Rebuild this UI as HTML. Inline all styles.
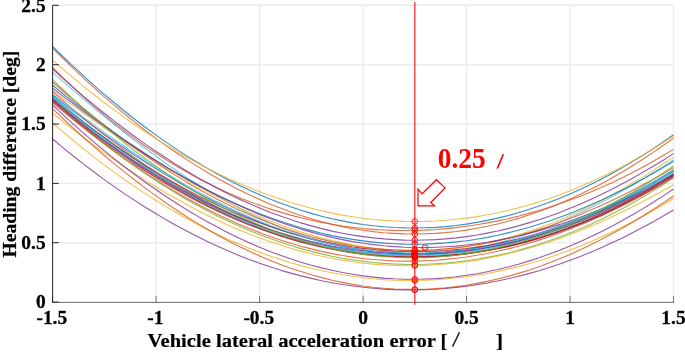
<!DOCTYPE html>
<html><head><meta charset="utf-8"><title>Heading difference vs lateral acceleration error</title>
<style>html,body{margin:0;padding:0;background:#fff}svg{display:block}</style></head>
<body>
<svg width="685" height="352" viewBox="0 0 685 352">
<rect width="685" height="352" fill="#fff"/>
<g stroke="#ebebeb" stroke-width="1.4"><line x1="52.6" y1="5.3" x2="52.6" y2="302.1"/><line x1="156.1" y1="5.3" x2="156.1" y2="302.1"/><line x1="259.6" y1="5.3" x2="259.6" y2="302.1"/><line x1="363.1" y1="5.3" x2="363.1" y2="302.1"/><line x1="466.5" y1="5.3" x2="466.5" y2="302.1"/><line x1="570.0" y1="5.3" x2="570.0" y2="302.1"/><line x1="673.5" y1="5.3" x2="673.5" y2="302.1"/><line x1="52.6" y1="302.1" x2="673.5" y2="302.1"/><line x1="52.6" y1="242.7" x2="673.5" y2="242.7"/><line x1="52.6" y1="183.4" x2="673.5" y2="183.4"/><line x1="52.6" y1="124.0" x2="673.5" y2="124.0"/><line x1="52.6" y1="64.7" x2="673.5" y2="64.7"/><line x1="52.6" y1="5.3" x2="673.5" y2="5.3"/></g>
<g fill="none" stroke-width="1.1" stroke-opacity="0.8" stroke-linejoin="round"><polyline points="52.6,46.3 62.9,56.5 73.3,66.3 83.6,75.9 94.0,85.3 104.3,94.3 114.7,103.0 125.0,111.5 135.4,119.7 145.7,127.5 156.1,135.1 166.4,142.4 176.8,149.4 187.1,156.1 197.5,162.5 207.8,168.6 218.2,174.5 228.5,180.0 238.9,185.2 249.2,190.1 259.6,194.7 269.9,199.1 280.3,203.1 290.6,206.8 301.0,210.2 311.3,213.4 321.7,216.2 332.0,218.7 342.4,220.9 352.7,222.9 363.1,224.5 373.4,225.8 383.7,226.8 394.1,227.5 404.4,227.9 414.8,228.0 425.1,227.8 435.5,227.4 445.8,226.6 456.2,225.5 466.5,224.1 476.9,222.4 487.2,220.4 497.6,218.1 507.9,215.6 518.3,212.7 528.6,209.5 539.0,206.1 549.3,202.3 559.7,198.3 570.0,193.9 580.4,189.3 590.7,184.4 601.1,179.2 611.4,173.7 621.8,167.9 632.1,161.8 642.5,155.5 652.8,148.9 663.2,141.9 673.5,134.8" stroke="#0072BD"/>
<polyline points="52.6,48.0 62.9,58.3 73.3,68.3 83.6,78.1 94.0,87.6 104.3,96.8 114.7,105.7 125.0,114.3 135.4,122.6 145.7,130.7 156.1,138.4 166.4,145.9 176.8,153.0 187.1,159.9 197.5,166.4 207.8,172.7 218.2,178.7 228.5,184.3 238.9,189.7 249.2,194.8 259.6,199.5 269.9,204.0 280.3,208.1 290.6,212.0 301.0,215.5 311.3,218.7 321.7,221.7 332.0,224.3 342.4,226.6 352.7,228.6 363.1,230.2 373.4,231.6 383.7,232.7 394.1,233.4 404.4,233.9 414.8,234.0 425.1,233.8 435.5,233.4 445.8,232.6 456.2,231.5 466.5,230.1 476.9,228.3 487.2,226.3 497.6,224.0 507.9,221.3 518.3,218.4 528.6,215.1 539.0,211.6 549.3,207.7 559.7,203.6 570.0,199.1 580.4,194.3 590.7,189.3 601.1,183.9 611.4,178.2 621.8,172.3 632.1,166.0 642.5,159.5 652.8,152.6 663.2,145.5 673.5,138.1" stroke="#D95319"/>
<polyline points="52.6,60.1 62.9,69.1 73.3,77.9 83.6,86.4 94.0,94.7 104.3,102.7 114.7,110.4 125.0,117.9 135.4,125.2 145.7,132.1 156.1,138.9 166.4,145.3 176.8,151.5 187.1,157.4 197.5,163.1 207.8,168.5 218.2,173.7 228.5,178.6 238.9,183.2 249.2,187.6 259.6,191.7 269.9,195.6 280.3,199.1 290.6,202.5 301.0,205.5 311.3,208.3 321.7,210.8 332.0,213.1 342.4,215.1 352.7,216.8 363.1,218.3 373.4,219.5 383.7,220.4 394.1,221.0 404.4,221.4 414.8,221.5 425.1,221.4 435.5,221.0 445.8,220.3 456.2,219.3 466.5,218.1 476.9,216.6 487.2,214.8 497.6,212.8 507.9,210.5 518.3,207.9 528.6,205.0 539.0,201.9 549.3,198.5 559.7,194.8 570.0,190.8 580.4,186.6 590.7,182.1 601.1,177.3 611.4,172.2 621.8,166.9 632.1,161.3 642.5,155.4 652.8,149.2 663.2,142.7 673.5,136.0" stroke="#EDB120"/>
<polyline points="52.6,67.3 62.9,77.7 73.3,87.6 83.6,97.1 94.0,106.3 104.3,115.1 114.7,123.5 125.0,131.5 135.4,139.1 145.7,146.5 156.1,153.4 166.4,160.0 176.8,166.3 187.1,172.3 197.5,177.9 207.8,183.3 218.2,188.3 228.5,193.0 238.9,197.4 249.2,201.5 259.6,205.3 269.9,208.9 280.3,212.1 290.6,215.1 301.0,217.8 311.3,220.2 321.7,222.4 332.0,224.3 342.4,226.0 352.7,227.3 363.1,228.5 373.4,229.4 383.7,230.0 394.1,230.4 404.4,230.5 414.8,230.4 425.1,230.1 435.5,229.5 445.8,228.6 456.2,227.6 466.5,226.3 476.9,224.7 487.2,222.9 497.6,220.9 507.9,218.7 518.3,216.2 528.6,213.4 539.0,210.5 549.3,207.2 559.7,203.8 570.0,200.1 580.4,196.2 590.7,192.0 601.1,187.5 611.4,182.9 621.8,177.9 632.1,172.7 642.5,167.3 652.8,161.6 663.2,155.6 673.5,149.4" stroke="#D95319"/>
<polyline points="52.6,69.0 62.9,78.3 73.3,87.4 83.6,96.3 94.0,104.9 104.3,113.3 114.7,121.4 125.0,129.3 135.4,137.0 145.7,144.4 156.1,151.5 166.4,158.3 176.8,164.9 187.1,171.3 197.5,177.4 207.8,183.1 218.2,188.7 228.5,193.9 238.9,198.9 249.2,203.6 259.6,208.0 269.9,212.2 280.3,216.0 290.6,219.6 301.0,222.9 311.3,225.9 321.7,228.6 332.0,231.1 342.4,233.2 352.7,235.1 363.1,236.6 373.4,237.9 383.7,238.9 394.1,239.6 404.4,240.1 414.8,240.2 425.1,240.0 435.5,239.6 445.8,238.9 456.2,237.9 466.5,236.6 476.9,235.0 487.2,233.1 497.6,231.0 507.9,228.6 518.3,225.9 528.6,222.9 539.0,219.7 549.3,216.2 559.7,212.4 570.0,208.3 580.4,204.0 590.7,199.4 601.1,194.6 611.4,189.5 621.8,184.1 632.1,178.5 642.5,172.6 652.8,166.5 663.2,160.2 673.5,153.6" stroke="#7E2F8E"/>
<polyline points="52.6,72.3 62.9,81.4 73.3,90.4 83.6,99.2 94.0,107.9 104.3,116.5 114.7,124.8 125.0,133.0 135.4,141.0 145.7,148.8 156.1,156.3 166.4,163.7 176.8,170.8 187.1,177.7 197.5,184.3 207.8,190.6 218.2,196.7 228.5,202.5 238.9,208.0 249.2,213.3 259.6,218.2 269.9,222.8 280.3,227.2 290.6,231.2 301.0,234.9 311.3,238.3 321.7,241.3 332.0,244.1 342.4,246.5 352.7,248.6 363.1,250.3 373.4,251.7 383.7,252.8 394.1,253.6 404.4,254.0 414.8,254.1 425.1,253.9 435.5,253.3 445.8,252.4 456.2,251.2 466.5,249.6 476.9,247.8 487.2,245.6 497.6,243.1 507.9,240.3 518.3,237.2 528.6,233.8 539.0,230.2 549.3,226.2 559.7,222.0 570.0,217.5 580.4,212.7 590.7,207.7 601.1,202.5 611.4,197.0 621.8,191.2 632.1,185.3 642.5,179.2 652.8,172.9 663.2,166.4 673.5,159.7" stroke="#4DBEEE"/>
<polyline points="52.6,91.0 62.9,98.5 73.3,105.9 83.6,113.2 94.0,120.5 104.3,127.7 114.7,134.7 125.0,141.7 135.4,148.5 145.7,155.2 156.1,161.8 166.4,168.2 176.8,174.4 187.1,180.4 197.5,186.2 207.8,191.9 218.2,197.3 228.5,202.5 238.9,207.4 249.2,212.2 259.6,216.6 269.9,220.9 280.3,224.8 290.6,228.5 301.0,232.0 311.3,235.1 321.7,238.0 332.0,240.6 342.4,242.9 352.7,244.9 363.1,246.6 373.4,248.0 383.7,249.0 394.1,249.8 404.4,250.3 414.8,250.4 425.1,250.3 435.5,249.8 445.8,249.0 456.2,247.9 466.5,246.5 476.9,244.8 487.2,242.8 497.6,240.4 507.9,237.8 518.3,234.8 528.6,231.6 539.0,228.0 549.3,224.2 559.7,220.0 570.0,215.6 580.4,210.9 590.7,205.9 601.1,200.7 611.4,195.1 621.8,189.4 632.1,183.3 642.5,177.1 652.8,170.6 663.2,163.8 673.5,156.9" stroke="#EDB120"/>
<polyline points="52.6,82.0 62.9,91.0 73.3,99.8 83.6,108.5 94.0,116.9 104.3,125.1 114.7,133.1 125.0,140.9 135.4,148.4 145.7,155.7 156.1,162.7 166.4,169.5 176.8,176.1 187.1,182.4 197.5,188.4 207.8,194.2 218.2,199.7 228.5,204.9 238.9,209.9 249.2,214.6 259.6,219.0 269.9,223.1 280.3,226.9 290.6,230.5 301.0,233.7 311.3,236.7 321.7,239.4 332.0,241.8 342.4,243.9 352.7,245.7 363.1,247.2 373.4,248.4 383.7,249.4 394.1,250.0 404.4,250.4 414.8,250.4 425.1,250.2 435.5,249.7 445.8,248.9 456.2,247.9 466.5,246.5 476.9,244.9 487.2,243.0 497.6,240.9 507.9,238.4 518.3,235.8 528.6,232.8 539.0,229.6 549.3,226.2 559.7,222.5 570.0,218.6 580.4,214.5 590.7,210.1 601.1,205.5 611.4,200.7 621.8,195.7 632.1,190.5 642.5,185.1 652.8,179.5 663.2,173.7 673.5,167.8" stroke="#D95319"/>
<polyline points="52.6,85.3 62.9,93.7 73.3,101.9 83.6,109.9 94.0,117.8 104.3,125.4 114.7,132.9 125.0,140.1 135.4,147.2 145.7,154.0 156.1,160.6 166.4,167.0 176.8,173.1 187.1,179.0 197.5,184.7 207.8,190.2 218.2,195.4 228.5,200.3 238.9,205.0 249.2,209.5 259.6,213.7 269.9,217.6 280.3,221.2 290.6,224.6 301.0,227.8 311.3,230.6 321.7,233.2 332.0,235.6 342.4,237.6 352.7,239.4 363.1,240.9 373.4,242.1 383.7,243.1 394.1,243.7 404.4,244.1 414.8,244.2 425.1,244.1 435.5,243.6 445.8,242.9 456.2,241.9 466.5,240.7 476.9,239.2 487.2,237.4 497.6,235.3 507.9,232.9 518.3,230.3 528.6,227.5 539.0,224.3 549.3,220.9 559.7,217.3 570.0,213.4 580.4,209.2 590.7,204.8 601.1,200.2 611.4,195.3 621.8,190.2 632.1,184.9 642.5,179.3 652.8,173.5 663.2,167.5 673.5,161.3" stroke="#0072BD"/>
<polyline points="52.6,88.2 62.9,96.1 73.3,103.8 83.6,111.5 94.0,119.0 104.3,126.3 114.7,133.6 125.0,140.6 135.4,147.5 145.7,154.2 156.1,160.8 166.4,167.1 176.8,173.2 187.1,179.2 197.5,184.9 207.8,190.4 218.2,195.7 228.5,200.7 238.9,205.5 249.2,210.1 259.6,214.4 269.9,218.4 280.3,222.3 290.6,225.8 301.0,229.1 311.3,232.1 321.7,234.9 332.0,237.4 342.4,239.6 352.7,241.6 363.1,243.2 373.4,244.6 383.7,245.8 394.1,246.6 404.4,247.2 414.8,247.5 425.1,247.6 435.5,247.3 445.8,246.8 456.2,246.1 466.5,245.0 476.9,243.7 487.2,242.2 497.6,240.4 507.9,238.3 518.3,236.0 528.6,233.4 539.0,230.6 549.3,227.6 559.7,224.4 570.0,220.9 580.4,217.2 590.7,213.3 601.1,209.2 611.4,205.0 621.8,200.5 632.1,195.8 642.5,191.0 652.8,186.0 663.2,180.9 673.5,175.6" stroke="#7E2F8E"/>
<polyline points="52.6,102.5 62.9,111.3 73.3,119.8 83.6,128.1 94.0,136.2 104.3,144.1 114.7,151.8 125.0,159.2 135.4,166.3 145.7,173.2 156.1,179.9 166.4,186.3 176.8,192.5 187.1,198.4 197.5,204.1 207.8,209.5 218.2,214.7 228.5,219.5 238.9,224.2 249.2,228.5 259.6,232.6 269.9,236.4 280.3,239.9 290.6,243.2 301.0,246.2 311.3,248.9 321.7,251.4 332.0,253.6 342.4,255.5 352.7,257.1 363.1,258.5 373.4,259.5 383.7,260.3 394.1,260.9 404.4,261.1 414.8,261.1 425.1,260.8 435.5,260.3 445.8,259.4 456.2,258.3 466.5,257.0 476.9,255.3 487.2,253.5 497.6,251.3 507.9,248.9 518.3,246.2 528.6,243.3 539.0,240.1 549.3,236.7 559.7,233.0 570.0,229.1 580.4,225.0 590.7,220.6 601.1,216.0 611.4,211.1 621.8,206.1 632.1,200.8 642.5,195.3 652.8,189.5 663.2,183.6 673.5,177.5" stroke="#D95319"/>
<polyline points="52.6,95.0 62.9,103.1 73.3,111.1 83.6,118.9 94.0,126.6 104.3,134.1 114.7,141.4 125.0,148.5 135.4,155.5 145.7,162.2 156.1,168.8 166.4,175.1 176.8,181.3 187.1,187.2 197.5,192.9 207.8,198.3 218.2,203.5 228.5,208.5 238.9,213.2 249.2,217.7 259.6,222.0 269.9,225.9 280.3,229.7 290.6,233.1 301.0,236.3 311.3,239.2 321.7,241.9 332.0,244.2 342.4,246.3 352.7,248.2 363.1,249.7 373.4,251.0 383.7,251.9 394.1,252.6 404.4,253.1 414.8,253.2 425.1,253.1 435.5,252.6 445.8,251.9 456.2,250.9 466.5,249.7 476.9,248.1 487.2,246.3 497.6,244.2 507.9,241.9 518.3,239.3 528.6,236.4 539.0,233.2 549.3,229.8 559.7,226.1 570.0,222.2 580.4,218.0 590.7,213.6 601.1,208.9 611.4,204.0 621.8,198.9 632.1,193.6 642.5,188.0 652.8,182.2 663.2,176.2 673.5,170.0" stroke="#0072BD"/>
<polyline points="52.6,97.8 62.9,106.2 73.3,114.5 83.6,122.5 94.0,130.3 104.3,137.8 114.7,145.2 125.0,152.3 135.4,159.1 145.7,165.8 156.1,172.2 166.4,178.3 176.8,184.2 187.1,189.9 197.5,195.4 207.8,200.5 218.2,205.5 228.5,210.2 238.9,214.6 249.2,218.8 259.6,222.8 269.9,226.5 280.3,229.9 290.6,233.1 301.0,236.1 311.3,238.7 321.7,241.2 332.0,243.4 342.4,245.3 352.7,247.0 363.1,248.4 373.4,249.5 383.7,250.4 394.1,251.1 404.4,251.5 414.8,251.6 425.1,251.5 435.5,251.1 445.8,250.5 456.2,249.6 466.5,248.5 476.9,247.1 487.2,245.5 497.6,243.6 507.9,241.4 518.3,239.1 528.6,236.4 539.0,233.5 549.3,230.4 559.7,227.0 570.0,223.3 580.4,219.5 590.7,215.3 601.1,211.0 611.4,206.4 621.8,201.5 632.1,196.4 642.5,191.1 652.8,185.6 663.2,179.8 673.5,173.8" stroke="#A2142F"/>
<polyline points="52.6,100.0 62.9,109.3 73.3,118.3 83.6,127.1 94.0,135.6 104.3,143.8 114.7,151.7 125.0,159.4 135.4,166.8 145.7,173.9 156.1,180.8 166.4,187.4 176.8,193.7 187.1,199.8 197.5,205.6 207.8,211.1 218.2,216.4 228.5,221.3 238.9,226.0 249.2,230.5 259.6,234.6 269.9,238.5 280.3,242.1 290.6,245.5 301.0,248.6 311.3,251.4 321.7,253.9 332.0,256.2 342.4,258.2 352.7,259.9 363.1,261.3 373.4,262.5 383.7,263.4 394.1,264.0 404.4,264.4 414.8,264.5 425.1,264.3 435.5,263.8 445.8,263.1 456.2,262.1 466.5,260.8 476.9,259.3 487.2,257.4 497.6,255.4 507.9,253.0 518.3,250.3 528.6,247.4 539.0,244.2 549.3,240.8 559.7,237.1 570.0,233.0 580.4,228.8 590.7,224.2 601.1,219.4 611.4,214.3 621.8,208.9 632.1,203.3 642.5,197.3 652.8,191.1 663.2,184.7 673.5,177.9" stroke="#77AC30"/>
<polyline points="52.6,113.2 62.9,121.5 73.3,129.6 83.6,137.5 94.0,145.2 104.3,152.7 114.7,160.0 125.0,167.1 135.4,173.9 145.7,180.6 156.1,187.0 166.4,193.2 176.8,199.1 187.1,204.8 197.5,210.3 207.8,215.5 218.2,220.5 228.5,225.2 238.9,229.7 249.2,233.9 259.6,237.9 269.9,241.6 280.3,245.0 290.6,248.2 301.0,251.1 311.3,253.8 321.7,256.2 332.0,258.3 342.4,260.1 352.7,261.7 363.1,263.1 373.4,264.1 383.7,264.9 394.1,265.4 404.4,265.7 414.8,265.7 425.1,265.4 435.5,264.8 445.8,264.0 456.2,263.0 466.5,261.6 476.9,260.1 487.2,258.2 497.6,256.1 507.9,253.8 518.3,251.2 528.6,248.3 539.0,245.3 549.3,241.9 559.7,238.4 570.0,234.6 580.4,230.6 590.7,226.3 601.1,221.8 611.4,217.1 621.8,212.2 632.1,207.1 642.5,201.8 652.8,196.3 663.2,190.6 673.5,184.7" stroke="#EDB120"/>
<polyline points="52.6,123.0 62.9,131.9 73.3,140.5 83.6,148.9 94.0,157.1 104.3,164.9 114.7,172.6 125.0,180.0 135.4,187.1 145.7,193.9 156.1,200.5 166.4,206.9 176.8,213.0 187.1,218.8 197.5,224.4 207.8,229.7 218.2,234.7 228.5,239.5 238.9,244.0 249.2,248.3 259.6,252.3 269.9,256.0 280.3,259.5 290.6,262.7 301.0,265.6 311.3,268.3 321.7,270.7 332.0,272.8 342.4,274.7 352.7,276.3 363.1,277.7 373.4,278.8 383.7,279.6 394.1,280.2 404.4,280.5 414.8,280.5 425.1,280.3 435.5,279.8 445.8,279.0 456.2,278.0 466.5,276.8 476.9,275.2 487.2,273.5 497.6,271.4 507.9,269.1 518.3,266.6 528.6,263.8 539.0,260.7 549.3,257.4 559.7,253.8 570.0,250.0 580.4,246.0 590.7,241.7 601.1,237.1 611.4,232.3 621.8,227.3 632.1,222.0 642.5,216.5 652.8,210.7 663.2,204.7 673.5,198.5" stroke="#EDB120"/>
<polyline points="52.6,139.0 62.9,147.6 73.3,156.0 83.6,164.1 94.0,172.0 104.3,179.6 114.7,186.9 125.0,194.1 135.4,200.9 145.7,207.5 156.1,213.8 166.4,219.9 176.8,225.7 187.1,231.3 197.5,236.6 207.8,241.7 218.2,246.5 228.5,251.1 238.9,255.4 249.2,259.4 259.6,263.2 269.9,266.8 280.3,270.1 290.6,273.1 301.0,275.9 311.3,278.4 321.7,280.7 332.0,282.7 342.4,284.5 352.7,286.0 363.1,287.3 373.4,288.3 383.7,289.1 394.1,289.6 404.4,289.9 414.8,289.9 425.1,289.6 435.5,289.2 445.8,288.4 456.2,287.4 466.5,286.2 476.9,284.7 487.2,283.0 497.6,281.0 507.9,278.8 518.3,276.3 528.6,273.6 539.0,270.7 549.3,267.4 559.7,264.0 570.0,260.3 580.4,256.4 590.7,252.2 601.1,247.7 611.4,243.1 621.8,238.2 632.1,233.0 642.5,227.6 652.8,222.0 663.2,216.1 673.5,210.0" stroke="#7E2F8E"/>
<polyline points="52.6,105.0 62.9,114.7 73.3,124.1 83.6,133.2 94.0,142.1 104.3,150.7 114.7,159.1 125.0,167.2 135.4,175.0 145.7,182.5 156.1,189.8 166.4,196.8 176.8,203.5 187.1,210.0 197.5,216.1 207.8,222.0 218.2,227.6 228.5,232.9 238.9,238.0 249.2,242.7 259.6,247.2 269.9,251.4 280.3,255.2 290.6,258.8 301.0,262.2 311.3,265.2 321.7,267.9 332.0,270.3 342.4,272.5 352.7,274.3 363.1,275.9 373.4,277.1 383.7,278.1 394.1,278.8 404.4,279.2 414.8,279.2 425.1,279.0 435.5,278.6 445.8,277.8 456.2,276.7 466.5,275.3 476.9,273.7 487.2,271.7 497.6,269.5 507.9,267.0 518.3,264.2 528.6,261.1 539.0,257.8 549.3,254.1 559.7,250.2 570.0,246.0 580.4,241.5 590.7,236.7 601.1,231.7 611.4,226.4 621.8,220.8 632.1,215.0 642.5,208.9 652.8,202.5 663.2,195.9 673.5,189.0" stroke="#7E2F8E"/>
<polyline points="52.6,108.6 62.9,118.5 73.3,128.1 83.6,137.5 94.0,146.6 104.3,155.5 114.7,164.1 125.0,172.4 135.4,180.5 145.7,188.4 156.1,195.9 166.4,203.2 176.8,210.2 187.1,217.0 197.5,223.4 207.8,229.5 218.2,235.4 228.5,241.0 238.9,246.3 249.2,251.2 259.6,255.9 269.9,260.3 280.3,264.4 290.6,268.2 301.0,271.6 311.3,274.8 321.7,277.6 332.0,280.2 342.4,282.4 352.7,284.4 363.1,286.0 373.4,287.3 383.7,288.3 394.1,289.0 404.4,289.4 414.8,289.4 425.1,289.2 435.5,288.6 445.8,287.8 456.2,286.6 466.5,285.2 476.9,283.4 487.2,281.4 497.6,279.0 507.9,276.4 518.3,273.4 528.6,270.2 539.0,266.7 549.3,262.8 559.7,258.7 570.0,254.4 580.4,249.7 590.7,244.8 601.1,239.6 611.4,234.1 621.8,228.4 632.1,222.4 642.5,216.2 652.8,209.7 663.2,203.0 673.5,196.0" stroke="#D95319"/>
<polyline points="52.6,91.4 62.9,100.6 73.3,109.6 83.6,118.3 94.0,126.8 104.3,135.0 114.7,142.9 125.0,150.5 135.4,157.9 145.7,165.1 156.1,171.9 166.4,178.5 176.8,184.8 187.1,190.9 197.5,196.7 207.8,202.2 218.2,207.4 228.5,212.4 238.9,217.1 249.2,221.6 259.6,225.8 269.9,229.7 280.3,233.3 290.6,236.7 301.0,239.9 311.3,242.7 321.7,245.3 332.0,247.6 342.4,249.7 352.7,251.4 363.1,253.0 373.4,254.2 383.7,255.2 394.1,255.9 404.4,256.4 414.8,256.5 425.1,256.5 435.5,256.1 445.8,255.5 456.2,254.6 466.5,253.5 476.9,252.0 487.2,250.4 497.6,248.4 507.9,246.2 518.3,243.7 528.6,240.9 539.0,237.9 549.3,234.6 559.7,231.1 570.0,227.3 580.4,223.2 590.7,218.8 601.1,214.2 611.4,209.3 621.8,204.2 632.1,198.8 642.5,193.1 652.8,187.1 663.2,180.9 673.5,174.4" stroke="#D95319"/>
<polyline points="52.6,96.5 62.9,105.2 73.3,113.7 83.6,122.0 94.0,130.0 104.3,137.8 114.7,145.4 125.0,152.7 135.4,159.9 145.7,166.7 156.1,173.4 166.4,179.7 176.8,185.9 187.1,191.8 197.5,197.4 207.8,202.8 218.2,207.9 228.5,212.8 238.9,217.4 249.2,221.7 259.6,225.8 269.9,229.6 280.3,233.2 290.6,236.5 301.0,239.5 311.3,242.2 321.7,244.7 332.0,246.9 342.4,248.9 352.7,250.6 363.1,252.0 373.4,253.1 383.7,254.0 394.1,254.6 404.4,254.9 414.8,255.0 425.1,254.8 435.5,254.3 445.8,253.5 456.2,252.5 466.5,251.2 476.9,249.7 487.2,247.8 497.6,245.7 507.9,243.4 518.3,240.8 528.6,237.9 539.0,234.8 549.3,231.4 559.7,227.7 570.0,223.8 580.4,219.7 590.7,215.3 601.1,210.6 611.4,205.7 621.8,200.6 632.1,195.2 642.5,189.6 652.8,183.7 663.2,177.6 673.5,171.3" stroke="#0072BD"/>
<polyline points="52.6,99.0 62.9,107.9 73.3,116.6 83.6,125.0 94.0,133.1 104.3,141.0 114.7,148.6 125.0,155.9 135.4,163.0 145.7,169.9 156.1,176.4 166.4,182.8 176.8,188.8 187.1,194.6 197.5,200.2 207.8,205.5 218.2,210.5 228.5,215.2 238.9,219.7 249.2,224.0 259.6,228.0 269.9,231.7 280.3,235.2 290.6,238.4 301.0,241.3 311.3,244.0 321.7,246.5 332.0,248.6 342.4,250.6 352.7,252.2 363.1,253.6 373.4,254.7 383.7,255.6 394.1,256.2 404.4,256.6 414.8,256.7 425.1,256.5 435.5,256.1 445.8,255.4 456.2,254.5 466.5,253.3 476.9,251.9 487.2,250.1 497.6,248.2 507.9,245.9 518.3,243.5 528.6,240.7 539.0,237.7 549.3,234.4 559.7,230.9 570.0,227.1 580.4,223.1 590.7,218.8 601.1,214.2 611.4,209.4 621.8,204.3 632.1,199.0 642.5,193.4 652.8,187.5 663.2,181.4 673.5,175.0" stroke="#A2142F"/>
<polyline points="52.6,94.0 62.9,101.9 73.3,109.7 83.6,117.4 94.0,124.9 104.3,132.4 114.7,139.6 125.0,146.8 135.4,153.7 145.7,160.5 156.1,167.1 166.4,173.5 176.8,179.7 187.1,185.7 197.5,191.4 207.8,197.0 218.2,202.3 228.5,207.4 238.9,212.2 249.2,216.8 259.6,221.2 269.9,225.3 280.3,229.1 290.6,232.6 301.0,235.9 311.3,238.9 321.7,241.7 332.0,244.1 342.4,246.3 352.7,248.2 363.1,249.8 373.4,251.1 383.7,252.2 394.1,252.9 404.4,253.3 414.8,253.5 425.1,253.4 435.5,253.0 445.8,252.3 456.2,251.3 466.5,250.0 476.9,248.5 487.2,246.7 497.6,244.5 507.9,242.2 518.3,239.5 528.6,236.6 539.0,233.5 549.3,230.0 559.7,226.4 570.0,222.5 580.4,218.3 590.7,213.9 601.1,209.3 611.4,204.5 621.8,199.4 632.1,194.2 642.5,188.7 652.8,183.1 663.2,177.2 673.5,171.3" stroke="#4DBEEE"/>
<polyline points="52.6,98.5 62.9,107.3 73.3,115.9 83.6,124.2 94.0,132.3 104.3,140.1 114.7,147.7 125.0,155.1 135.4,162.1 145.7,169.0 156.1,175.6 166.4,181.9 176.8,188.0 187.1,193.8 197.5,199.4 207.8,204.7 218.2,209.7 228.5,214.5 238.9,219.1 249.2,223.4 259.6,227.4 269.9,231.1 280.3,234.6 290.6,237.8 301.0,240.8 311.3,243.5 321.7,246.0 332.0,248.1 342.4,250.0 352.7,251.7 363.1,253.1 373.4,254.2 383.7,255.1 394.1,255.6 404.4,256.0 414.8,256.0 425.1,255.8 435.5,255.4 445.8,254.6 456.2,253.6 466.5,252.4 476.9,250.9 487.2,249.1 497.6,247.0 507.9,244.7 518.3,242.1 528.6,239.3 539.0,236.2 549.3,232.8 559.7,229.2 570.0,225.3 580.4,221.2 590.7,216.8 601.1,212.2 611.4,207.3 621.8,202.1 632.1,196.7 642.5,191.0 652.8,185.1 663.2,178.9 673.5,172.5" stroke="#77AC30"/>
<polyline points="52.6,101.0 62.9,109.8 73.3,118.4 83.6,126.7 94.0,134.8 104.3,142.6 114.7,150.1 125.0,157.4 135.4,164.5 145.7,171.2 156.1,177.8 166.4,184.0 176.8,190.0 187.1,195.8 197.5,201.3 207.8,206.5 218.2,211.5 228.5,216.2 238.9,220.7 249.2,224.9 259.6,228.8 269.9,232.5 280.3,236.0 290.6,239.2 301.0,242.1 311.3,244.8 321.7,247.2 332.0,249.3 342.4,251.2 352.7,252.9 363.1,254.2 373.4,255.4 383.7,256.2 394.1,256.8 404.4,257.2 414.8,257.3 425.1,257.1 435.5,256.7 445.8,256.1 456.2,255.1 466.5,253.9 476.9,252.5 487.2,250.8 497.6,248.8 507.9,246.6 518.3,244.2 528.6,241.4 539.0,238.5 549.3,235.2 559.7,231.7 570.0,228.0 580.4,224.0 590.7,219.7 601.1,215.2 611.4,210.4 621.8,205.3 632.1,200.0 642.5,194.5 652.8,188.7 663.2,182.6 673.5,176.3" stroke="#A2142F"/>
<polyline points="52.6,97.0 62.9,106.0 73.3,114.7 83.6,123.1 94.0,131.3 104.3,139.2 114.7,146.9 125.0,154.3 135.4,161.4 145.7,168.3 156.1,174.9 166.4,181.3 176.8,187.4 187.1,193.2 197.5,198.8 207.8,204.1 218.2,209.1 228.5,213.9 238.9,218.4 249.2,222.7 259.6,226.7 269.9,230.5 280.3,233.9 290.6,237.2 301.0,240.1 311.3,242.8 321.7,245.3 332.0,247.5 342.4,249.4 352.7,251.0 363.1,252.4 373.4,253.6 383.7,254.4 394.1,255.1 404.4,255.4 414.8,255.5 425.1,255.3 435.5,254.9 445.8,254.2 456.2,253.3 466.5,252.0 476.9,250.6 487.2,248.8 497.6,246.8 507.9,244.6 518.3,242.1 528.6,239.3 539.0,236.3 549.3,233.0 559.7,229.4 570.0,225.6 580.4,221.5 590.7,217.1 601.1,212.5 611.4,207.7 621.8,202.5 632.1,197.2 642.5,191.5 652.8,185.6 663.2,179.4 673.5,173.0" stroke="#4DBEEE"/>
<polyline points="52.6,99.5 62.9,108.2 73.3,116.7 83.6,124.9 94.0,132.9 104.3,140.6 114.7,148.0 125.0,155.2 135.4,162.1 145.7,168.8 156.1,175.3 166.4,181.5 176.8,187.4 187.1,193.1 197.5,198.5 207.8,203.7 218.2,208.6 228.5,213.3 238.9,217.7 249.2,221.8 259.6,225.7 269.9,229.4 280.3,232.8 290.6,235.9 301.0,238.8 311.3,241.5 321.7,243.8 332.0,246.0 342.4,247.8 352.7,249.5 363.1,250.8 373.4,252.0 383.7,252.8 394.1,253.4 404.4,253.8 414.8,253.9 425.1,253.8 435.5,253.4 445.8,252.7 456.2,251.8 466.5,250.6 476.9,249.2 487.2,247.5 497.6,245.6 507.9,243.4 518.3,241.0 528.6,238.3 539.0,235.4 549.3,232.2 559.7,228.8 570.0,225.1 580.4,221.1 590.7,216.9 601.1,212.5 611.4,207.8 621.8,202.8 632.1,197.6 642.5,192.1 652.8,186.4 663.2,180.4 673.5,174.2" stroke="#7E2F8E"/>
<polyline points="52.6,79.7 62.9,89.5 73.3,99.1 83.6,108.5 94.0,117.6 104.3,126.4 114.7,134.9 125.0,143.2 135.4,151.2 145.7,158.9 156.1,166.3 166.4,173.5 176.8,180.4 187.1,187.0 197.5,193.3 207.8,199.3 218.2,205.0 228.5,210.5 238.9,215.6 249.2,220.5 259.6,225.0 269.9,229.3 280.3,233.3 290.6,237.0 301.0,240.3 311.3,243.4 321.7,246.2 332.0,248.7 342.4,250.9 352.7,252.8 363.1,254.4 373.4,255.6 383.7,256.6 394.1,257.3 404.4,257.7 414.8,257.8 425.1,257.6 435.5,257.1 445.8,256.3 456.2,255.2 466.5,253.8 476.9,252.1 487.2,250.2 497.6,247.9 507.9,245.3 518.3,242.5 528.6,239.3 539.0,235.9 549.3,232.2 559.7,228.2 570.0,223.9 580.4,219.4 590.7,214.5 601.1,209.4 611.4,204.0 621.8,198.3 632.1,192.4 642.5,186.2 652.8,179.7 663.2,173.0 673.5,166.0" stroke="#77AC30"/></g>
<g stroke="#666" stroke-width="0.9"><line x1="52.6" y1="302.45" x2="674.0" y2="302.45"/><line x1="52.6" y1="302.45" x2="52.6" y2="295.9"/><line x1="156.1" y1="302.45" x2="156.1" y2="295.9"/><line x1="259.6" y1="302.45" x2="259.6" y2="295.9"/><line x1="363.1" y1="302.45" x2="363.1" y2="295.9"/><line x1="466.5" y1="302.45" x2="466.5" y2="295.9"/><line x1="570.0" y1="302.45" x2="570.0" y2="295.9"/><line x1="673.5" y1="302.45" x2="673.5" y2="295.9"/></g>
<g stroke="#2a2a2a" stroke-width="1"><line x1="52.6" y1="5.3" x2="52.6" y2="302.95"/><line x1="52.6" y1="302.1" x2="58.8" y2="302.1"/><line x1="52.6" y1="242.7" x2="58.8" y2="242.7"/><line x1="52.6" y1="183.4" x2="58.8" y2="183.4"/><line x1="52.6" y1="124.0" x2="58.8" y2="124.0"/><line x1="52.6" y1="64.7" x2="58.8" y2="64.7"/><line x1="52.6" y1="5.3" x2="58.8" y2="5.3"/></g>
<line x1="414.85" y1="2" x2="414.85" y2="304.7" stroke="#f00" stroke-width="1.05"/>
<g fill="none" stroke="#f00" stroke-width="0.9"><circle cx="414.8" cy="228.0" r="2.8"/><circle cx="414.8" cy="234.0" r="2.8"/><circle cx="414.8" cy="221.5" r="2.8"/><circle cx="414.8" cy="230.4" r="2.8"/><circle cx="414.8" cy="240.2" r="2.8"/><circle cx="414.8" cy="254.1" r="2.8"/><circle cx="414.8" cy="250.4" r="2.8"/><circle cx="414.8" cy="250.4" r="2.8"/><circle cx="414.8" cy="244.2" r="2.8"/><circle cx="425.0" cy="247.6" r="2.8"/><circle cx="414.8" cy="261.1" r="2.8"/><circle cx="414.8" cy="253.2" r="2.8"/><circle cx="414.8" cy="251.6" r="2.8"/><circle cx="414.8" cy="264.5" r="2.8"/><circle cx="414.8" cy="265.7" r="2.8"/><circle cx="414.8" cy="280.5" r="2.8"/><circle cx="414.8" cy="289.9" r="2.8"/><circle cx="414.8" cy="279.2" r="2.8"/><circle cx="414.8" cy="289.4" r="2.8"/><circle cx="414.8" cy="256.5" r="2.8"/><circle cx="414.8" cy="255.0" r="2.8"/><circle cx="414.8" cy="256.7" r="2.8"/><circle cx="414.8" cy="253.5" r="2.8"/><circle cx="414.8" cy="256.0" r="2.8"/><circle cx="414.8" cy="257.3" r="2.8"/><circle cx="414.8" cy="255.5" r="2.8"/><circle cx="414.8" cy="253.9" r="2.8"/><circle cx="414.8" cy="257.8" r="2.8"/></g>
<polygon points="418,205.9 418,189.1 422.2,193.8 436.4,179.7 445,187.9 430.8,202.5 434.7,205.9" fill="none" stroke="#f00" stroke-width="1.2"/>
<text transform="translate(437.80,168.00) scale(0.945,1)" font-family="Liberation Serif, serif" font-weight="bold" font-size="29.0" text-anchor="start" fill="#f00" xml:space="preserve">0.25</text>
<text transform="translate(497.0,168.2) skewX(-4)" font-family="Liberation Serif, serif" font-size="20.3" fill="#f00" stroke="#f00" stroke-width="0.7">/</text>
<text transform="translate(51.80,324.10) scale(1.080,1)" font-family="Liberation Serif, serif" font-weight="bold" font-size="18.0" text-anchor="middle" stroke="#000" stroke-width="0.25" xml:space="preserve">-1.5</text>
<text transform="translate(155.28,324.10) scale(1.080,1)" font-family="Liberation Serif, serif" font-weight="bold" font-size="18.0" text-anchor="middle" stroke="#000" stroke-width="0.25" xml:space="preserve">-1</text>
<text transform="translate(258.77,324.10) scale(1.080,1)" font-family="Liberation Serif, serif" font-weight="bold" font-size="18.0" text-anchor="middle" stroke="#000" stroke-width="0.25" xml:space="preserve">-0.5</text>
<text transform="translate(363.05,324.10) scale(1.080,1)" font-family="Liberation Serif, serif" font-weight="bold" font-size="18.0" text-anchor="middle" stroke="#000" stroke-width="0.25" xml:space="preserve">0</text>
<text transform="translate(466.53,324.10) scale(1.080,1)" font-family="Liberation Serif, serif" font-weight="bold" font-size="18.0" text-anchor="middle" stroke="#000" stroke-width="0.25" xml:space="preserve">0.5</text>
<text transform="translate(570.02,324.10) scale(1.080,1)" font-family="Liberation Serif, serif" font-weight="bold" font-size="18.0" text-anchor="middle" stroke="#000" stroke-width="0.25" xml:space="preserve">1</text>
<text transform="translate(673.50,324.10) scale(1.080,1)" font-family="Liberation Serif, serif" font-weight="bold" font-size="18.0" text-anchor="middle" stroke="#000" stroke-width="0.25" xml:space="preserve">1.5</text>
<text transform="translate(45.60,308.40) scale(1.080,1)" font-family="Liberation Serif, serif" font-weight="bold" font-size="18.0" text-anchor="end" stroke="#000" stroke-width="0.25" xml:space="preserve">0</text>
<text transform="translate(45.60,249.04) scale(1.080,1)" font-family="Liberation Serif, serif" font-weight="bold" font-size="18.0" text-anchor="end" stroke="#000" stroke-width="0.25" xml:space="preserve">0.5</text>
<text transform="translate(45.60,189.68) scale(1.080,1)" font-family="Liberation Serif, serif" font-weight="bold" font-size="18.0" text-anchor="end" stroke="#000" stroke-width="0.25" xml:space="preserve">1</text>
<text transform="translate(45.60,130.32) scale(1.080,1)" font-family="Liberation Serif, serif" font-weight="bold" font-size="18.0" text-anchor="end" stroke="#000" stroke-width="0.25" xml:space="preserve">1.5</text>
<text transform="translate(45.60,70.96) scale(1.080,1)" font-family="Liberation Serif, serif" font-weight="bold" font-size="18.0" text-anchor="end" stroke="#000" stroke-width="0.25" xml:space="preserve">2</text>
<text transform="translate(45.60,11.60) scale(1.080,1)" font-family="Liberation Serif, serif" font-weight="bold" font-size="18.0" text-anchor="end" stroke="#000" stroke-width="0.25" xml:space="preserve">2.5</text>
<text transform="translate(147.60,346.70) scale(1.060,1)" font-family="Liberation Serif, serif" font-weight="bold" font-size="19.4" text-anchor="start" stroke="#000" stroke-width="0.2" xml:space="preserve">Vehicle lateral acceleration error [</text>
<text transform="translate(452.2,346.0) skewX(-8)" font-family="Liberation Serif, serif" font-size="20.5" stroke="#000" stroke-width="0.45">/</text>
<text transform="translate(496.00,346.70) scale(1.090,1)" font-family="Liberation Serif, serif" font-weight="bold" font-size="19.4" text-anchor="start" stroke="#000" stroke-width="0.2" xml:space="preserve">]</text>
<text transform="translate(15.60,257.60) rotate(-90) scale(1.062,1)" font-family="Liberation Serif, serif" font-weight="bold" font-size="18.5" text-anchor="start" stroke="#000" stroke-width="0.25" xml:space="preserve">Heading difference [deg]</text>
</svg>
</body></html>
